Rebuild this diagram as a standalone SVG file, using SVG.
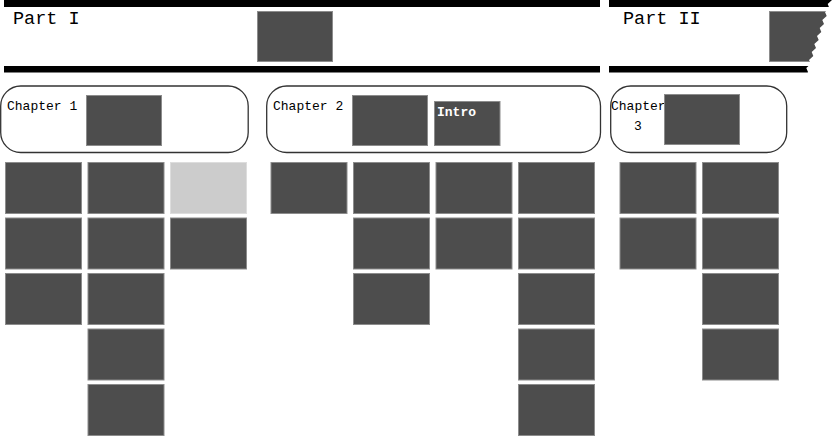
<svg xmlns="http://www.w3.org/2000/svg" width="833" height="437" viewBox="0 0 833 437">
<style>
  .bar{fill:#000}
  .blk{fill:#4d4d4d;stroke:#8c8c8c;stroke-width:1}
  .lt{fill:#cccccc;stroke:#dddddd;stroke-width:1}
  .ch{fill:#fff;stroke:#333;stroke-width:1.3}
  .ptxt{font-family:"Liberation Mono","DejaVu Sans Mono",monospace;font-size:18.5px;fill:#000}
  .ctxt{font-family:"Liberation Mono","DejaVu Sans Mono",monospace;font-size:13px;fill:#000}
  .itxt{font-family:"Liberation Mono","DejaVu Sans Mono",monospace;font-size:13px;font-weight:bold;fill:#fff}
</style>
<defs>
  <clipPath id="torn">
    <polygon points="600,0 832,0 827.7,4 829.3,8 825,12 826.7,16 822.3,20 824,24 819.7,28 821.3,32 817,36 818.7,40 814.3,44 816,48 811.7,52 813.3,56 809,60 810.7,64 806.3,68 808,72 806.7,76 600,76"/>
  </clipPath>
</defs>
<rect width="833" height="437" fill="#fff"/>
<g id="connectors"/>
<g id="part1">
  <rect class="bar" x="4" y="0" width="596" height="7"/>
  <rect class="bar" x="4" y="66" width="596" height="6.5"/>
  <text class="ptxt" x="13" y="24">Part I</text>
  <rect class="blk" x="257.5" y="11.5" width="75" height="50"/>
</g>
<g id="part2" clip-path="url(#torn)">
  <rect class="bar" x="609" y="0" width="224" height="7"/>
  <rect class="bar" x="609" y="66" width="224" height="6.5"/>
  <text class="ptxt" x="623" y="24">Part II</text>
  <rect class="blk" x="769.5" y="11.5" width="75" height="50"/>
</g>
<g id="chapter1">
  <rect class="ch" x="0.7" y="86" width="247.5" height="66.5" rx="20" ry="20"/>
  <text class="ctxt" x="7" y="110">Chapter 1</text>
  <rect class="blk" x="86.5" y="95.5" width="75" height="50"/>
</g>
<g id="chapter2">
  <rect class="ch" x="266.7" y="86" width="333.8" height="66.5" rx="20" ry="20"/>
  <text class="ctxt" x="273" y="110">Chapter 2</text>
  <rect class="blk" x="352.5" y="95.5" width="75" height="50"/>
  <g id="intro">
    <rect class="blk" x="434.5" y="101.5" width="65.5" height="44"/>
    <text class="itxt" x="437" y="116">Intro</text>
  </g>
</g>
<g id="chapter3">
  <rect class="ch" x="610.7" y="86" width="176" height="66.5" rx="20" ry="20"/>
  <text class="ctxt" x="611" y="110">Chapter</text>
  <text class="ctxt" x="634" y="130">3</text>
  <rect class="blk" x="664.5" y="94.5" width="75" height="50"/>
</g>
<g id="tiles-ch1">
  <rect id="t1-1-1" class="blk" x="5.5" y="162.5" width="76" height="51"/>
  <rect id="t1-1-2" class="blk" x="5.5" y="218" width="76" height="51"/>
  <rect id="t1-1-3" class="blk" x="5.5" y="273.5" width="76" height="51"/>
  <rect id="t1-2-1" class="blk" x="88" y="162.5" width="76" height="51"/>
  <rect id="t1-2-2" class="blk" x="88" y="218" width="76" height="51"/>
  <rect id="t1-2-3" class="blk" x="88" y="273.5" width="76" height="51"/>
  <rect id="t1-2-4" class="blk" x="88" y="329" width="76" height="51"/>
  <rect id="t1-2-5" class="blk" x="88" y="384.5" width="76" height="51"/>
  <rect id="t1-3-1" class="lt" x="170.5" y="162.5" width="76" height="51"/>
  <rect id="t1-3-2" class="blk" x="170.5" y="218" width="76" height="51"/>
</g>
<g id="tiles-ch2">
  <rect id="t2-1-1" class="blk" x="271" y="162.5" width="76" height="51"/>
  <rect id="t2-2-1" class="blk" x="353.5" y="162.5" width="76" height="51"/>
  <rect id="t2-2-2" class="blk" x="353.5" y="218" width="76" height="51"/>
  <rect id="t2-2-3" class="blk" x="353.5" y="273.5" width="76" height="51"/>
  <rect id="t2-3-1" class="blk" x="436" y="162.5" width="76" height="51"/>
  <rect id="t2-3-2" class="blk" x="436" y="218" width="76" height="51"/>
  <rect id="t2-4-1" class="blk" x="518.5" y="162.5" width="76" height="51"/>
  <rect id="t2-4-2" class="blk" x="518.5" y="218" width="76" height="51"/>
  <rect id="t2-4-3" class="blk" x="518.5" y="273.5" width="76" height="51"/>
  <rect id="t2-4-4" class="blk" x="518.5" y="329" width="76" height="51"/>
  <rect id="t2-4-5" class="blk" x="518.5" y="384.5" width="76" height="51"/>
</g>
<g id="tiles-ch3">
  <rect id="t3-1-1" class="blk" x="620" y="162.5" width="76" height="51"/>
  <rect id="t3-1-2" class="blk" x="620" y="218" width="76" height="51"/>
  <rect id="t3-2-1" class="blk" x="702.5" y="162.5" width="76" height="51"/>
  <rect id="t3-2-2" class="blk" x="702.5" y="218" width="76" height="51"/>
  <rect id="t3-2-3" class="blk" x="702.5" y="273.5" width="76" height="51"/>
  <rect id="t3-2-4" class="blk" x="702.5" y="329" width="76" height="51"/>
</g>
</svg>
